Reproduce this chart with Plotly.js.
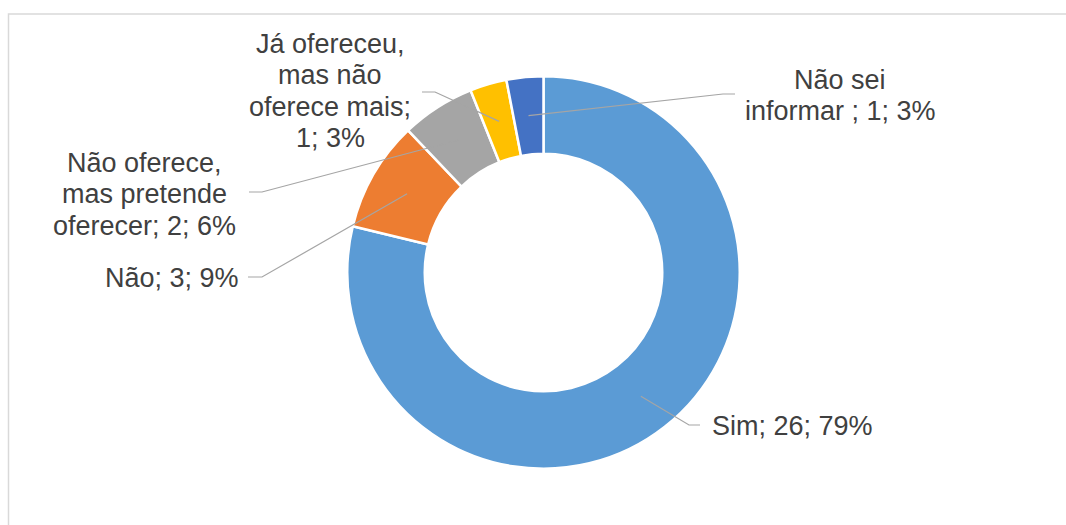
<!DOCTYPE html>
<html>
<head>
<meta charset="utf-8">
<script src="https://cdn.plot.ly/plotly-3.0.1.min.js"></script>
<style>html,body{margin:0;padding:0;background:#fff;}#chart{width:1066px;height:525px;}</style>
</head>
<body>
<div id="chart"></div>
<script>
// ---- data ----
const categories = ['Sim', 'Não', 'Não oferece, mas pretende oferecer', 'Já ofereceu, mas não oferece mais', 'Não sei informar '];
const counts = [26, 3, 2, 1, 1];

// ---- style ----
const sliceColors = ['#5B9BD5', '#ED7D31', '#A5A5A5', '#FFC000', '#4472C4'];
const W = 1066, H = 525;
const CX = 543.5, CY = 272.5;          // donut centre (px)
const R_OUT = 195, R_IN = 120;         // visible outer / inner radius (px)
const SEP = 2.5;                       // white separator width
const FONT = {family: 'Liberation Sans, Arial, sans-serif', size: 27, color: '#404040'};
const LINE_H = 31.5;
// words per wrapped line for each label
const wrapCounts = [[3], [3], [2, 2, 3], [2, 2, 2, 2], [2, 4]];
// label placement: anchor side, x, first baseline, elbow point, line end
const labelPos = [
  {xanchor: 'left',   x: 711, base: 435, elbow: [689, 425], end: [700, 425]},
  {xanchor: 'right',  x: 240, base: 287, elbow: [262, 277], end: [248, 277]},
  {xanchor: 'center', x: 144, base: 172, elbow: [262, 192], end: [249, 192]},
  {xanchor: 'center', x: 330, base: 53,  elbow: [435, 92],  end: [422, 92]},
  {xanchor: 'center', x: 840, base: 89,  elbow: [723, 94],  end: [735, 94]}
];

const total = counts.reduce((a, b) => a + b, 0);
const px = x => x / W;
const py = y => 1 - y / H;

const rPlot = R_OUT + SEP / 2;
const holeFrac = (R_IN - SEP / 2) / rPlot;

const trace = {
  type: 'pie',
  labels: categories,
  values: counts,
  sort: false,
  direction: 'clockwise',
  rotation: 0,
  hole: holeFrac,
  textinfo: 'none',
  hoverinfo: 'none',
  marker: {colors: sliceColors, line: {color: '#FFFFFF', width: SEP}},
  domain: {
    x: [px(CX - rPlot), px(CX + rPlot)],
    y: [py(CY + rPlot), py(CY - rPlot)]
  },
  showlegend: false
};

const annotations = [];
const shapes = [];
// chart frame
shapes.push({type: 'rect', xref: 'paper', yref: 'paper',
  x0: px(8.5), x1: px(W + 10), y0: py(H + 10), y1: py(14),
  line: {color: '#D9D9D9', width: 1.5}, fillcolor: 'rgba(0,0,0,0)', layer: 'below'});

let cum = 0;
categories.forEach((cat, i) => {
  const v = counts[i];
  const pct = Math.round(v / total * 100);
  const mid = (cum + v / 2) / total * 2 * Math.PI;
  cum += v;
  const rMid = (R_OUT + R_IN) / 2;
  const ax = CX + rMid * Math.sin(mid);
  const ay = CY - rMid * Math.cos(mid);
  const p = labelPos[i];
  shapes.push({type: 'path', xref: 'paper', yref: 'paper',
    path: `M ${px(ax)},${py(ay)} L ${px(p.elbow[0])},${py(p.elbow[1])} L ${px(p.end[0])},${py(p.end[1])}`,
    line: {color: '#A5A5A5', width: 1.2}});
  const full = `${cat}; ${v}; ${pct}%`;
  const words = full.split(' ');
  let k = 0;
  wrapCounts[i].forEach((n, li) => {
    const txt = words.slice(k, k + n).join(' ');
    k += n;
    const base = p.base + li * LINE_H;
    annotations.push({
      xref: 'paper', yref: 'paper', x: px(p.x), y: py(base - 0.35 * FONT.size),
      xanchor: p.xanchor, yanchor: 'middle', text: txt, showarrow: false,
      font: FONT, borderpad: 0
    });
  });
});

const layout = {
  width: W, height: H,
  margin: {l: 0, r: 0, t: 0, b: 0},
  paper_bgcolor: '#FFFFFF',
  plot_bgcolor: '#FFFFFF',
  shapes: shapes,
  annotations: annotations,
  showlegend: false
};

Plotly.newPlot('chart', [trace], layout, {displayModeBar: false, staticPlot: true});
</script>
</body>
</html>
